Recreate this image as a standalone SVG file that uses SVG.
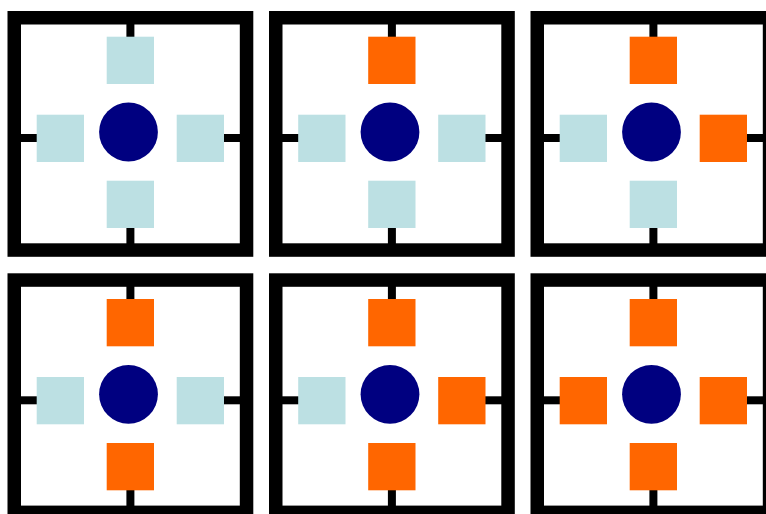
<svg xmlns="http://www.w3.org/2000/svg" xmlns:xlink="http://www.w3.org/1999/xlink" width="766" height="514" viewBox="0 0 766 514">
  <style>
    .frame { fill: none; stroke: #000; stroke-width: 13.5; }
    .tick { stroke: #000; stroke-width: 8; }
    .hub { fill: #000080; }
    .off { fill: #BCE0E3; }
    .on { fill: #FF6600; }
  </style>
  <defs>
    <g id="base">
      <line class="tick" x1="130.4" y1="20" x2="130.4" y2="40"/>
      <line class="tick" x1="130.4" y1="225" x2="130.4" y2="248"/>
      <line class="tick" x1="17" y1="138" x2="40" y2="138"/>
      <line class="tick" x1="220" y1="138" x2="244" y2="138"/>
      <rect class="frame" x="14.25" y="17.75" width="232.3" height="232.3"/>
      <circle class="hub" cx="128.5" cy="132" r="29.4"/>
    </g>
  </defs>
  <rect width="766" height="514" fill="#fff"/>
  <g id="panel1">
    <use xlink:href="#base"/>
    <rect class="off" x="106.7" y="36.7" width="47.3" height="47.3"/>
    <rect class="off" x="36.7" y="114.7" width="47.3" height="47.3"/>
    <rect class="off" x="176.7" y="114.7" width="47.3" height="47.3"/>
    <rect class="off" x="106.7" y="180.7" width="47.3" height="47.3"/>
  </g>
  <g id="panel2" transform="translate(261.5,0)">
    <use xlink:href="#base"/>
    <rect class="on" x="106.7" y="36.7" width="47.3" height="47.3"/>
    <rect class="off" x="36.7" y="114.7" width="47.3" height="47.3"/>
    <rect class="off" x="176.7" y="114.7" width="47.3" height="47.3"/>
    <rect class="off" x="106.7" y="180.7" width="47.3" height="47.3"/>
  </g>
  <g id="panel3" transform="translate(523,0)">
    <use xlink:href="#base"/>
    <rect class="on" x="106.7" y="36.7" width="47.3" height="47.3"/>
    <rect class="off" x="36.7" y="114.7" width="47.3" height="47.3"/>
    <rect class="on" x="176.7" y="114.7" width="47.3" height="47.3"/>
    <rect class="off" x="106.7" y="180.7" width="47.3" height="47.3"/>
  </g>
  <g id="panel4" transform="translate(0,262.3)">
    <use xlink:href="#base"/>
    <rect class="on" x="106.7" y="36.7" width="47.3" height="47.3"/>
    <rect class="off" x="36.7" y="114.7" width="47.3" height="47.3"/>
    <rect class="off" x="176.7" y="114.7" width="47.3" height="47.3"/>
    <rect class="on" x="106.7" y="180.7" width="47.3" height="47.3"/>
  </g>
  <g id="panel5" transform="translate(261.5,262.3)">
    <use xlink:href="#base"/>
    <rect class="on" x="106.7" y="36.7" width="47.3" height="47.3"/>
    <rect class="off" x="36.7" y="114.7" width="47.3" height="47.3"/>
    <rect class="on" x="176.7" y="114.7" width="47.3" height="47.3"/>
    <rect class="on" x="106.7" y="180.7" width="47.3" height="47.3"/>
  </g>
  <g id="panel6" transform="translate(523,262.3)">
    <use xlink:href="#base"/>
    <rect class="on" x="106.7" y="36.7" width="47.3" height="47.3"/>
    <rect class="on" x="36.7" y="114.7" width="47.3" height="47.3"/>
    <rect class="on" x="176.7" y="114.7" width="47.3" height="47.3"/>
    <rect class="on" x="106.7" y="180.7" width="47.3" height="47.3"/>
  </g>
</svg>
